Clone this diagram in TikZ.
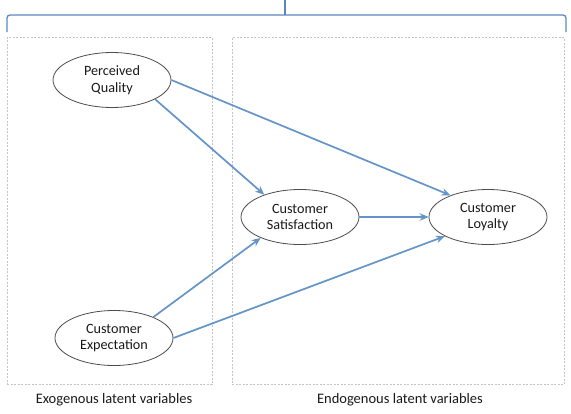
\documentclass[tikz,border=0pt]{standalone}
\usepackage{fontspec}
\setmainfont{Carlito}
\usetikzlibrary{arrows.meta,shapes.geometric}
\definecolor{arrowblue}{RGB}{100,148,200}
\definecolor{bracecol}{RGB}{90,135,190}
\definecolor{boxgray}{RGB}{195,195,195}
\definecolor{textcol}{RGB}{25,25,25}
\tikzset{
  latent/.style={ellipse, draw=black!70, line width=0.8pt, minimum width=118pt, minimum height=55pt, align=center, font=\fontsize{14.2}{16.5}\selectfont, text=textcol, inner sep=0pt},
  conn/.style={draw=arrowblue, line width=1.7pt, -{Stealth[length=9pt,width=7.5pt]}},
  groupbox/.style={draw=boxgray, line width=0.8pt, dash pattern=on 2pt off 1.5pt},
  grouplabel/.style={font=\fontsize{14.5}{17}\selectfont, text=textcol},
}
\begin{document}
\begin{tikzpicture}[x=1pt,y=-1pt]
\useasboundingbox (0,0) rectangle (571,413);
% brace
\draw[bracecol, line width=1.3pt, rounded corners=3pt] (7,32) -- (7,15) -- (566,15) -- (566,32);
\draw[bracecol, line width=1.3pt] (285,15) -- (285,0);
% group boxes
\node[groupbox, minimum width=205pt, minimum height=347pt, inner sep=0pt] (exo) at (109.5,211) {};
\node[groupbox, minimum width=332pt, minimum height=347pt, inner sep=0pt] (endo) at (398,211) {};
\node[grouplabel] (exolab) at (114,400) {Exogenous latent variables};
\node[grouplabel] (endolab) at (400,400) {Endogenous latent variables};
% latent variables
\node[latent] (pq) at (112,80) {Perceived\\Quality};
\node[latent] (cs) at (300,217) {Customer\\Satisfaction};
\node[latent] (cl) at (488,217) {Customer\\Loyalty};
\node[latent] (ce) at (114,338) {Customer\\Expectation};
% connectors
\draw[conn] (pq.-24) -- (cs.148);
\draw[conn] (pq.east) -- (cl.150);
\draw[conn] (cs.east) -- (cl.west);
\draw[conn] (ce.28) -- (cs.208);
\draw[conn] (ce.east) -- (cl.204);
\end{tikzpicture}
\end{document}
